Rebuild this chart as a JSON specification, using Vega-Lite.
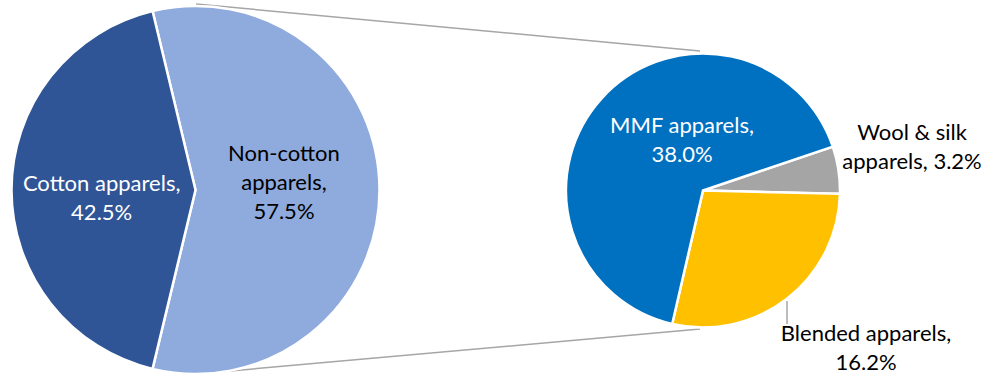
{
  "$schema": "https://vega.github.io/schema/vega-lite/v6.json",
  "width": 993,
  "height": 375,
  "padding": 0,
  "autosize": "none",
  "background": "white",
  "config": {"view": {"stroke": null}},
  "data": {
    "values": [
      {"group": "Total", "category": "Non-cotton apparels", "value": 57.5, "order": 1, "label": "Non-cotton\napparels,\n57.5%"},
      {"group": "Total", "category": "Cotton apparels", "value": 42.5, "order": 2, "label": "Cotton apparels,\n42.5%"},
      {"group": "Non-cotton", "category": "Wool & silk apparels", "value": 3.2, "order": 1, "label": "Wool & silk\napparels, 3.2%"},
      {"group": "Non-cotton", "category": "Blended apparels", "value": 16.2, "order": 2, "label": "Blended apparels,\n16.2%"},
      {"group": "Non-cotton", "category": "MMF apparels", "value": 38.0, "order": 3, "label": "MMF apparels,\n38.0%"}
    ]
  },
  "resolve": {"scale": {"theta": "independent"}},
  "layer": [
    {
      "data": {"values": [{"link": "top"}]},
      "mark": {"type": "rule", "color": "#A6A6A6", "strokeWidth": 1.5},
      "encoding": {
        "x": {"datum": 196, "type": "quantitative", "scale": {"domain": [0, 993], "nice": false, "zero": false}, "axis": null},
        "y": {"datum": 4, "type": "quantitative", "scale": {"domain": [0, 375], "nice": false, "zero": false, "reverse": true}, "axis": null},
        "x2": {"datum": 700},
        "y2": {"datum": 51}
      }
    },
    {
      "data": {"values": [{"link": "bottom"}]},
      "mark": {"type": "rule", "color": "#A6A6A6", "strokeWidth": 1.5},
      "encoding": {
        "x": {"datum": 196, "type": "quantitative", "scale": {"domain": [0, 993], "nice": false, "zero": false}, "axis": null},
        "y": {"datum": 374, "type": "quantitative", "scale": {"domain": [0, 375], "nice": false, "zero": false, "reverse": true}, "axis": null},
        "x2": {"datum": 700},
        "y2": {"datum": 329}
      }
    },
    {
      "data": {"values": [{"link": "leader"}]},
      "mark": {"type": "rule", "color": "#A6A6A6", "strokeWidth": 1.5},
      "encoding": {
        "x": {"datum": 787, "type": "quantitative", "scale": {"domain": [0, 993], "nice": false, "zero": false}, "axis": null},
        "y": {"datum": 301, "type": "quantitative", "scale": {"domain": [0, 375], "nice": false, "zero": false, "reverse": true}, "axis": null},
        "y2": {"datum": 324}
      }
    },
    {
      "transform": [{"filter": "datum.group === 'Total'"}],
      "mark": {"type": "arc", "outerRadius": 184, "stroke": "white", "strokeWidth": 2.5},
      "encoding": {
        "x": {"datum": 195.5, "type": "quantitative", "scale": {"domain": [0, 993], "nice": false, "zero": false}, "axis": null},
        "y": {"datum": 190, "type": "quantitative", "scale": {"domain": [0, 375], "nice": false, "zero": false, "reverse": true}, "axis": null},
        "theta": {"field": "value", "type": "quantitative", "stack": true, "scale": {"range": [-0.2356, 6.0476]}},
        "order": {"field": "order", "type": "quantitative"},
        "color": {"field": "category", "type": "nominal", "legend": null,
          "scale": {"domain": ["Cotton apparels", "Non-cotton apparels", "MMF apparels", "Wool & silk apparels", "Blended apparels"],
                    "range": ["#2F5597", "#8FAADC", "#0070C0", "#A5A5A5", "#FFC000"]}}
      }
    },
    {
      "transform": [{"filter": "datum.group === 'Non-cotton'"}],
      "mark": {"type": "arc", "outerRadius": 137, "stroke": "white", "strokeWidth": 2.5},
      "encoding": {
        "x": {"datum": 703, "type": "quantitative", "scale": {"domain": [0, 993], "nice": false, "zero": false}, "axis": null},
        "y": {"datum": 190.5, "type": "quantitative", "scale": {"domain": [0, 375], "nice": false, "zero": false, "reverse": true}, "axis": null},
        "theta": {"field": "value", "type": "quantitative", "stack": true, "scale": {"range": [1.245, 7.528]}},
        "order": {"field": "order", "type": "quantitative"},
        "color": {"field": "category", "type": "nominal", "legend": null}
      }
    },
    {
      "transform": [{"filter": "datum.group === 'Total'"}],
      "mark": {"type": "text", "radius": 94, "font": "Lato", "fontSize": 22, "lineHeight": 29, "lineBreak": "\n", "align": "center", "baseline": "middle"},
      "encoding": {
        "x": {"datum": 195.5, "type": "quantitative", "scale": {"domain": [0, 993], "nice": false, "zero": false}, "axis": null},
        "y": {"datum": 190, "type": "quantitative", "scale": {"domain": [0, 375], "nice": false, "zero": false, "reverse": true}, "axis": null},
        "theta": {"field": "value", "type": "quantitative", "stack": true, "scale": {"range": [-0.177, 6.1062]}},
        "order": {"field": "order", "type": "quantitative"},
        "text": {"condition": {"test": "datum.category === 'Cotton apparels'", "field": "label", "type": "nominal"}, "value": ""},
        "fill": {"value": "white"}
      }
    },
    {
      "transform": [{"filter": "datum.group === 'Total'"}],
      "mark": {"type": "text", "radius": 95.5, "font": "Lato", "fontSize": 22, "lineHeight": 29, "lineBreak": "\n", "align": "center", "baseline": "middle"},
      "encoding": {
        "x": {"datum": 195.5, "type": "quantitative", "scale": {"domain": [0, 993], "nice": false, "zero": false}, "axis": null},
        "y": {"datum": 190, "type": "quantitative", "scale": {"domain": [0, 375], "nice": false, "zero": false, "reverse": true}, "axis": null},
        "theta": {"field": "value", "type": "quantitative", "stack": true, "scale": {"range": [-0.622, 5.6612]}},
        "order": {"field": "order", "type": "quantitative"},
        "text": {"condition": {"test": "datum.category === 'Non-cotton apparels'", "field": "label", "type": "nominal"}, "value": ""},
        "fill": {"value": "black"}
      }
    },
    {
      "transform": [{"filter": "datum.group === 'Non-cotton'"}],
      "mark": {"type": "text", "radius": 68, "font": "Lato", "fontSize": 22, "lineHeight": 29, "lineBreak": "\n", "align": "center", "baseline": "middle"},
      "encoding": {
        "x": {"datum": 703, "type": "quantitative", "scale": {"domain": [0, 993], "nice": false, "zero": false}, "axis": null},
        "y": {"datum": 190.5, "type": "quantitative", "scale": {"domain": [0, 375], "nice": false, "zero": false, "reverse": true}, "axis": null},
        "theta": {"field": "value", "type": "quantitative", "stack": true, "scale": {"range": [1.7663, 8.0493]}},
        "order": {"field": "order", "type": "quantitative"},
        "text": {"condition": {"test": "datum.category === 'MMF apparels'", "field": "label", "type": "nominal"}, "value": ""},
        "fill": {"value": "white"}
      }
    },
    {
      "transform": [{"filter": "datum.group === 'Non-cotton'"}],
      "mark": {"type": "text", "radius": 216.8, "font": "Lato", "fontSize": 22, "lineHeight": 29, "lineBreak": "\n", "align": "center", "baseline": "middle"},
      "encoding": {
        "x": {"datum": 703, "type": "quantitative", "scale": {"domain": [0, 993], "nice": false, "zero": false}, "axis": null},
        "y": {"datum": 190.5, "type": "quantitative", "scale": {"domain": [0, 375], "nice": false, "zero": false, "reverse": true}, "axis": null},
        "theta": {"field": "value", "type": "quantitative", "stack": true, "scale": {"range": [1.1275, 7.4105]}},
        "order": {"field": "order", "type": "quantitative"},
        "text": {"condition": {"test": "datum.category === 'Wool & silk apparels'", "field": "label", "type": "nominal"}, "value": ""},
        "fill": {"value": "black"}
      }
    },
    {
      "transform": [{"filter": "datum.group === 'Non-cotton'"}],
      "mark": {"type": "text", "radius": 217.2, "font": "Lato", "fontSize": 22, "lineHeight": 29, "lineBreak": "\n", "align": "center", "baseline": "middle"},
      "encoding": {
        "x": {"datum": 703, "type": "quantitative", "scale": {"domain": [0, 993], "nice": false, "zero": false}, "axis": null},
        "y": {"datum": 190.5, "type": "quantitative", "scale": {"domain": [0, 375], "nice": false, "zero": false, "reverse": true}, "axis": null},
        "theta": {"field": "value", "type": "quantitative", "stack": true, "scale": {"range": [1.0558, 7.3388]}},
        "order": {"field": "order", "type": "quantitative"},
        "text": {"condition": {"test": "datum.category === 'Blended apparels'", "field": "label", "type": "nominal"}, "value": ""},
        "fill": {"value": "black"}
      }
    }
  ]
}
